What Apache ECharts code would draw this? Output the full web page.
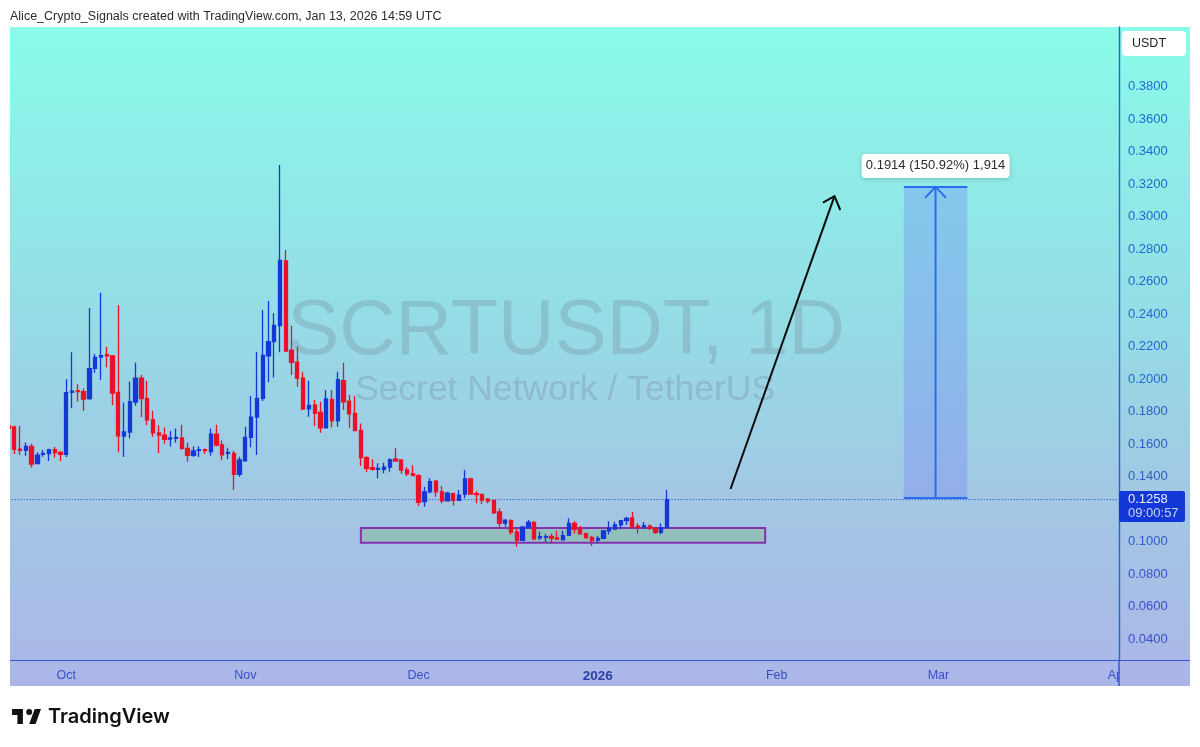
<!DOCTYPE html>
<html>
<head>
<meta charset="utf-8">
<title>SCRTUSDT, 1D</title>
<script src="https://cdn.jsdelivr.net/npm/echarts@6/dist/echarts.min.js"></script>
<style>
  html, body { margin: 0; padding: 0; background: #fff; }
  #chart { width: 1200px; height: 747px; }
</style>
</head>
<body>
<div id="chart"></div>
<script>
const FONT = '"Liberation Sans", Arial, sans-serif';
const BLUE = '#1438D8';
const RED = '#EC1028';
const AXIS = '#2A62CC';

// daily bars, first one is 2025-09-21
const firstDay = Date.UTC(2025, 8, 21);
const dayCount = 193;

const opens = [
  .1711,.1705,.1569,.1561,.1586,.1479,.1536,.1541,.1565,.1549,
  .1536,.1918,.1928,.1922,.1879,.2066,.2135,.2150,.2142,.1918,
  .1649,.1674,.1858,.2006,.1881,.1750,.1668,.1655,.1631,.1635,
  .1637,.1573,.1530,.1561,.1565,.1553,.1660,.1594,.1543,.1543,
  .1414,.1497,.1641,.1766,.1881,.2143,.2230,.2328,.2726,.2177,
  .2103,.2006,.1817,.1840,.1795,.1700,.1875,.1743,.1990,.1863,
  .1789,.1684,.1516,.1454,.1444,.1444,.1458,.1508,.1502,.1440,
  .1417,.1405,.1245,.1306,.1372,.1306,.1251,.1294,.1254,.1292,
  .1386,.1294,.1288,.1260,.1251,.1182,.1114,.1128,.1058,.1007,
  .1085,.1118,.1023,.1026,.1032,.1022,.1011,.1038,.1112,.1075,
  .1048,.1026,.1009,.1020,.1066,.1077,.1102,.1128,.1146,.1095,
  .1091,.1095,.1081,.1057,.1085
];
const closes = [
  .1696,.1567,.1561,.1586,.1477,.1532,.1543,.1565,.1547,.1536,
  .1916,.1926,.1922,.1877,.2064,.2133,.2144,.2142,.1914,.1651,
  .1674,.1861,.2006,.1879,.1748,.1668,.1655,.1629,.1637,.1641,
  .1573,.1530,.1557,.1565,.1559,.1660,.1594,.1534,.1549,.1414,
  .1502,.1641,.1766,.1881,.2146,.2230,.2330,.2730,.2172,.2103,
  .2004,.1815,.1838,.1789,.1700,.1877,.1743,.1996,.1860,.1785,
  .1682,.1516,.1450,.1444,.1450,.1458,.1503,.1495,.1440,.1417,
  .1405,.1241,.1306,.1368,.1306,.1251,.1297,.1254,.1286,.1385,
  .1292,.1288,.1255,.1249,.1177,.1112,.1132,.1058,.1007,.1089,
  .1118,.1017,.1030,.1030,.1020,.1015,.1036,.1112,.1075,.1048,
  .1023,.1005,.1020,.1066,.1083,.1102,.1128,.1143,.1091,.1087,
  .1097,.1081,.1057,.1085,.1258
];
const lows = [
  .1686,.1538,.1532,.1528,.1456,.1477,.1522,.1495,.1516,.1495,
  .1520,.1820,.1861,.1803,.1871,.2039,.1994,.2072,.1840,.1549,
  .1520,.1635,.1836,.1766,.1717,.1645,.1543,.1602,.1584,.1608,
  .1563,.1491,.1522,.1520,.1538,.1528,.1584,.1500,.1506,.1317,
  .1399,.1491,.1580,.1532,.1865,.1980,.2010,.2164,.2168,.2025,
  .1953,.1813,.1768,.1711,.1670,.1698,.1703,.1706,.1809,.1700,
  .1682,.1465,.1428,.1436,.1389,.1420,.1430,.1495,.1415,.1403,
  .1405,.1218,.1214,.1297,.1276,.1235,.1251,.1220,.1254,.1266,
  .1290,.1235,.1231,.1235,.1169,.1081,.1091,.1042,.0968,.1005,
  .1081,.1009,.1009,.0997,.0993,.1009,.1009,.1034,.1050,.1044,
  .1020,.0972,.0993,.1014,.1044,.1071,.1075,.1102,.1087,.1050,
  .1079,.1071,.1046,.1044,.1085
];
const highs = [
  .1737,.1713,.1711,.1610,.1602,.1549,.1563,.1571,.1582,.1557,
  .1998,.2164,.1967,.1943,.2437,.2154,.2531,.2199,.2148,.2455,
  .1856,.1984,.2101,.2025,.1990,.1805,.1715,.1701,.1680,.1696,
  .1719,.1610,.1586,.1584,.1573,.1696,.1719,.1621,.1577,.1559,
  .1522,.1706,.1895,.2168,.2425,.2480,.2404,.3317,.2794,.2328,
  .2199,.2045,.1990,.1871,.1860,.1932,.1932,.2045,.2100,.1902,
  .1895,.1727,.1526,.1506,.1481,.1485,.1512,.1574,.1506,.1457,
  .1469,.1414,.1337,.1389,.1378,.1342,.1306,.1300,.1317,.1440,
  .1393,.1309,.1297,.1268,.1257,.1204,.1137,.1137,.1081,.1097,
  .1132,.1124,.1060,.1046,.1050,.1066,.1066,.1143,.1126,.1095,
  .1054,.1034,.1034,.1071,.1124,.1122,.1132,.1153,.1182,.1112,
  .1120,.1106,.1091,.1112,.1317
];

const priceTicks = [.38,.36,.34,.32,.30,.28,.26,.24,.22,.20,.18,.16,.14,.10,.08,.06,.04];
const monthDays = ['2025-10-01','2025-11-01','2025-12-01','2026-01-01','2026-02-01','2026-03-01','2026-04-01'];
const monthNames = ['Oct','Nov','Dec','{year|2026}','Feb','Mar','Apr'];

// drawings on the chart
const lastPrice = 0.1258;
const zoneDays = ['2025-11-21', '2026-01-30'];
const zonePrices = [0.1083, 0.0992];
const measureDays = ['2026-02-23', '2026-03-06'];
const measurePrices = [0.1268, 0.3182];
const measureText = '0.1914 (150.92%) 1,914';
const arrowDays = ['2026-01-24', '2026-02-11', '2026-02-09', '2026-02-12'];
const arrowPrices = [0.1323, 0.3125, 0.3085, 0.3040];

const categories = [];
for (let i = 0; i < dayCount; i++) {
  categories.push(new Date(firstDay + i * 86400000).toISOString().slice(0, 10));
}
const candles = opens.map((o, i) => [o, closes[i], lows[i], highs[i]]);
const at = (day, price, api) => api.coord([categories.indexOf(day), price]);

const myChart = echarts.init(document.getElementById('chart'));

myChart.setOption({
  animation: false,
  backgroundColor: '#fff',
  textStyle: { fontFamily: FONT },
  grid: { left: 5.64, top: 27, width: 1114.76, height: 633 },
  xAxis: {
    type: 'category',
    data: categories,
    boundaryGap: true,
    axisTick: { show: false },
    splitLine: { show: false },
    axisLine: { lineStyle: { color: '#3A55D8', width: 1.2 } },
    axisLabel: {
      color: '#3A50C4',
      fontSize: 12.5,
      margin: 9,
      hideOverlap: false,
      interval: (idx, value) => monthDays.includes(value),
      formatter: (value) => monthNames[monthDays.indexOf(value)],
      rich: { year: { color: '#2A3FA8', fontSize: 13.5, fontWeight: 'bold' } }
    }
  },
  yAxis: {
    type: 'value',
    position: 'right',
    offset: -1.4,
    min: 0.0271,
    max: 0.4166,
    scale: true,
    splitLine: { show: false },
    axisTick: { show: false },
    axisLine: { show: true, lineStyle: { color: AXIS, width: 1.4 } },
    axisLabel: {
      color: (value) => (+value > 0.19 ? '#2069CE' : +value > 0.09 ? '#2F60BE' : '#3A50C8'),
      fontSize: 13,
      margin: 9,
      customValues: priceTicks,
      formatter: (v) => v.toFixed(4)
    }
  },
  graphic: [
    {
      type: 'rect', z: -2, shape: { x: 10, y: 27, width: 1180, height: 659 },
      style: {
        fill: new echarts.graphic.LinearGradient(0, 0, 0, 1, [
          { offset: 0, color: '#8AFBEA' },
          { offset: 0.42, color: '#94DEE6' },
          { offset: 0.72, color: '#A3C7E4' },
          { offset: 1, color: '#ABB6E8' }
        ])
      }
    },
    {
      type: 'text', z: -1, x: 566, y: 332,
      style: { text: 'SCRTUSDT, 1D', font: '78px ' + FONT, fill: 'rgba(90,75,100,0.18)', textAlign: 'center', textVerticalAlign: 'middle' }
    },
    {
      type: 'text', z: -1, x: 565, y: 390,
      style: { text: 'Secret Network / TetherUS', font: '35.5px ' + FONT, fill: 'rgba(90,75,100,0.18)', textAlign: 'center', textVerticalAlign: 'middle' }
    },
    // margin and clipped corner
    { type: 'rect', z: 100, shape: { x: 0, y: 20, width: 10, height: 680 }, style: { fill: '#fff' } },
    { type: 'rect', z: 100, shape: { x: 1120, y: 661, width: 70, height: 25 }, style: { fill: '#ABB6E8' } },
    { type: 'line', z: 101, shape: { x1: 1119, y1: 660, x2: 1119, y2: 686 }, style: { stroke: '#2D50D0', lineWidth: 1.4 } },
    { type: 'line', z: 101, shape: { x1: 1119, y1: 660.5, x2: 1190, y2: 660.5 }, style: { stroke: '#3A55D8', lineWidth: 1.2 } },
    {
      type: 'text', z: 101, x: 10, y: 17,
      style: { text: 'Alice_Crypto_Signals created with TradingView.com, Jan 13, 2026 14:59 UTC', font: '12.5px ' + FONT, fill: '#2B2B2B', textVerticalAlign: 'middle' }
    },
    { type: 'rect', z: 101, shape: { x: 1122, y: 31, width: 64, height: 25, r: 4 }, style: { fill: '#fff' } },
    {
      type: 'text', z: 102, x: 1132, y: 44,
      style: { text: 'USDT', font: '12.5px ' + FONT, fill: '#222', textVerticalAlign: 'middle' }
    },
    { type: 'rect', z: 101, shape: { x: 1119, y: 491, width: 66, height: 31, r: 2 }, style: { fill: BLUE } },
    {
      type: 'text', z: 102, x: 1128, y: 499,
      style: { text: '0.1258', font: '13px ' + FONT, fill: '#E8ECFF', textVerticalAlign: 'middle' }
    },
    {
      type: 'text', z: 102, x: 1128, y: 513,
      style: { text: '09:00:57', font: '13px ' + FONT, fill: '#C8D0F4', textVerticalAlign: 'middle' }
    },
    // logo
    { type: 'polygon', z: 101, shape: { points: [[12, 709], [22.9, 709], [22.9, 724], [17.4, 724], [17.4, 715], [12, 715]] }, style: { fill: '#111' } },
    { type: 'polygon', z: 101, shape: { points: [[29.2, 724], [35.6, 724], [41, 709], [34.7, 709]] }, style: { fill: '#111' } },
    { type: 'circle', z: 101, shape: { cx: 29.2, cy: 712, r: 3 }, style: { fill: '#111' } },
    {
      type: 'text', z: 101, x: 48, y: 717,
      style: { text: 'TradingView', font: '600 20px Inter, ' + FONT, fill: '#111', textVerticalAlign: 'middle' }
    }
  ],
  series: [
    {
      // support zone behind the candles
      type: 'custom',
      z: 1,
      silent: true,
      data: [[0, 0.1]],
      renderItem: (params, api) => {
        const a = at(zoneDays[0], zonePrices[0], api);
        const b = at(zoneDays[1], zonePrices[1], api);
        return {
          type: 'rect',
          shape: { x: a[0], y: a[1], width: b[0] - a[0], height: b[1] - a[1] },
          style: { fill: '#92BFBC', stroke: '#8432AE', lineWidth: 2 }
        };
      }
    },
    {
      // last price line
      type: 'line',
      z: 2,
      silent: true,
      showSymbol: false,
      data: [[categories[0], lastPrice], [categories[dayCount - 1], lastPrice]],
      lineStyle: { color: '#3F6CCB', type: [1.5, 1.5], width: 1 }
    },
    {
      type: 'candlestick',
      z: 3,
      data: candles,
      barWidth: 3.8,
      itemStyle: {
        color: BLUE,
        color0: RED,
        borderColor: BLUE,
        borderColor0: RED,
        borderWidth: 1.3
      }
    },
    {
      // long position measure
      type: 'custom',
      z: 4,
      silent: true,
      data: [[0, 0.2]],
      renderItem: (params, api) => {
        const a = at(measureDays[0], measurePrices[1], api);
        const b = at(measureDays[1], measurePrices[0], api);
        const mid = (a[0] + b[0]) / 2;
        const lineStyle = { stroke: '#2B6CF0', lineWidth: 2, fill: null };
        return {
          type: 'group',
          children: [
            { type: 'rect', shape: { x: a[0], y: a[1], width: b[0] - a[0], height: b[1] - a[1] }, style: { fill: 'rgba(100,100,250,0.25)' } },
            { type: 'line', shape: { x1: a[0], y1: a[1], x2: b[0], y2: a[1] }, style: lineStyle },
            { type: 'line', shape: { x1: a[0], y1: b[1], x2: b[0], y2: b[1] }, style: lineStyle },
            { type: 'line', shape: { x1: mid, y1: a[1], x2: mid, y2: b[1] }, style: lineStyle },
            { type: 'polyline', shape: { points: [[mid - 10.5, a[1] + 11], [mid, a[1]], [mid + 10.5, a[1] + 11]] }, style: lineStyle },
            {
              type: 'rect',
              shape: { x: mid - 74, y: a[1] - 33, width: 148, height: 24, r: 4 },
              style: { fill: '#fff', shadowBlur: 4, shadowColor: 'rgba(0,0,0,0.2)', shadowOffsetY: 1 }
            },
            {
              type: 'text',
              x: mid,
              y: a[1] - 21,
              style: { text: measureText, font: '13px ' + FONT, fill: '#2B2B2B', textAlign: 'center', textVerticalAlign: 'middle' }
            }
          ]
        };
      }
    },
    {
      // the projected move
      type: 'custom',
      z: 5,
      silent: true,
      data: [[0, 0.3]],
      renderItem: (params, api) => {
        const pts = arrowDays.map((d, i) => at(d, arrowPrices[i], api));
        const lineStyle = { stroke: '#0A0A0A', lineWidth: 2, fill: null };
        return {
          type: 'group',
          children: [
            { type: 'line', shape: { x1: pts[0][0], y1: pts[0][1], x2: pts[1][0], y2: pts[1][1] }, style: lineStyle },
            { type: 'polyline', shape: { points: [pts[2], pts[1], pts[3]] }, style: lineStyle }
          ]
        };
      }
    }
  ]
});
</script>
</body>
</html>
